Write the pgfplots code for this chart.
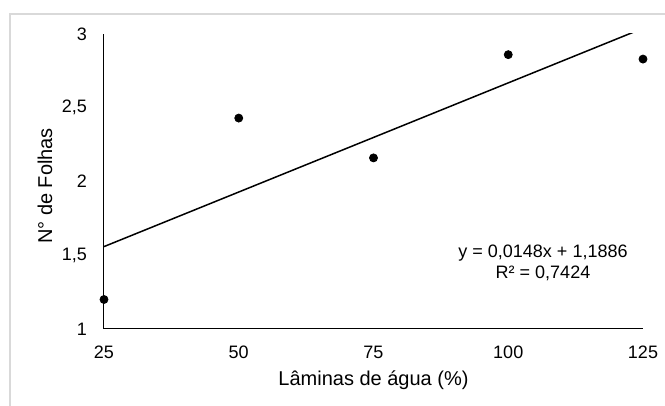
\documentclass[border=0pt]{standalone}
\usepackage{pgfplots}
\pgfplotsset{compat=1.18}
\usepackage{fontspec}
\setmainfont{Liberation Sans}
\begin{document}
\begin{tikzpicture}
\path[use as bounding box] (0,0) rectangle (332.5pt,203pt);
\draw[color={rgb,255:red,217;green,217;blue,217}, line width=0.9pt] (5pt,-1pt) -- (5pt,196pt) -- (334pt,196pt);
\begin{axis}[
  at={(52pt,38.5pt)}, anchor=south west,
  scale only axis, width=269.5pt, height=147.5pt,
  xmin=25, xmax=125, ymin=1, ymax=3,
  axis lines=left,
  axis line style={line width=0.5pt, -},
  xtick={25,50,75,100,125},
  ytick={1,1.5,2,2.5,3},
  major tick length=0pt,
  /pgf/number format/.cd, use comma, 1000 sep={}, assume math mode=true,
  /pgfplots/.cd,
  tick label style={font=\fontsize{9}{10.8}\selectfont, text=black},
  xticklabel style={yshift=-4.8pt},
  yticklabel style={xshift=-5pt},
  xlabel={Lâminas de água (\%)},
  ylabel={N° de Folhas},
  label style={font=\fontsize{10}{12}\selectfont},
  xlabel style={anchor=center, at={(axis description cs:0.5,0)}, yshift=-25.5pt},
  ylabel style={anchor=center, at={(axis description cs:-0.1095,0.485)}},
  clip=true,
]
\addplot[only marks, mark=*, mark size=2pt, black] coordinates {
  (25,1.20) (50,2.43) (75,2.16) (100,2.86) (125,2.83)
};
\addplot[black, line width=0.75pt] coordinates {
  (25,1.5586) (125,3.0386)
};
\node[align=center, font=\fontsize{9}{10.5}\selectfont, inner sep=0pt] at (axis description cs:0.8145,0.2254) {y = 0,0148x + 1,1886\\R² = 0,7424};
\end{axis}
\end{tikzpicture}
\end{document}
